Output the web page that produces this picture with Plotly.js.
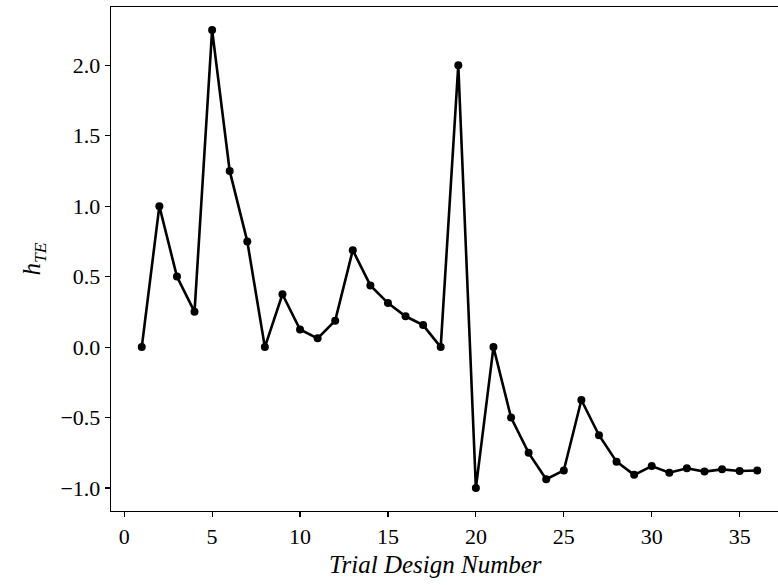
<!DOCTYPE html>
<html>
<head>
<meta charset="utf-8">
<script src="https://cdn.plot.ly/plotly-3.0.1.min.js"></script>
<style>
html,body{margin:0;padding:0;overflow:hidden;background:#fff;width:778px;height:585px;}
#chart{width:790px;height:585px;}
</style>
</head>
<body>
<div id="chart"></div>
<script>
const trialNumbers = [1,2,3,4,5,6,7,8,9,10,11,12,13,14,15,16,17,18,19,20,21,22,23,24,25,26,27,28,29,30,31,32,33,34,35,36];
const hTE = [0, 1.0, 0.5, 0.25, 2.25, 1.25, 0.75, 0, 0.375, 0.125, 0.0625, 0.1875, 0.6875, 0.4375, 0.3125, 0.21875, 0.15625, 0,
             2.0, -1.0, 0, -0.5, -0.75, -0.9375, -0.875, -0.375, -0.625, -0.8125, -0.90625, -0.84375, -0.890625, -0.859375,
             -0.8828, -0.8672, -0.8789, -0.875];
const xTicks = [0,5,10,15,20,25,30,35];
const yTicks = [-1.0,-0.5,0.0,0.5,1.0,1.5,2.0];
const xTitle = 'Trial Design Number';

const fam = '"Liberation Serif", "DejaVu Serif", serif';
const tickFont = {family: fam, size: 22, color: '#000'};
const titleFont = {family: fam, size: 25, color: '#000'};

Plotly.newPlot('chart', [{
  x: trialNumbers, y: hTE, type: 'scatter', mode: 'lines+markers',
  line: {color: '#000', width: 2.6},
  marker: {color: '#000', size: 8}
}], {
  width: 790, height: 585,
  margin: {l: 111, r: 2, t: 7, b: 74},
  paper_bgcolor: '#fff', plot_bgcolor: '#fff',
  showlegend: false,
  font: tickFont,
  xaxis: {
    range: [-0.75, 37.75], tickvals: xTicks, ticktext: xTicks.map(String),
    ticks: 'outside', ticklen: 5, tickwidth: 1.2, tickcolor: '#000',
    showline: true, mirror: true, linecolor: '#000', linewidth: 1.3,
    showgrid: false, zeroline: false,
    tickfont: tickFont
  },
  yaxis: {
    range: [-1.1625, 2.4125], tickvals: yTicks, tickformat: '.1f',
    ticks: 'outside', ticklen: 5, tickwidth: 1.2, tickcolor: '#000',
    showline: true, mirror: true, linecolor: '#000', linewidth: 1.3,
    showgrid: false, zeroline: false,
    tickfont: tickFont,
    title: {text: '<i>h</i><sub><i>TE</i></sub>', font: titleFont, standoff: 12}
  },
  annotations: [{
    text: '<i>' + xTitle + '</i>', xref: 'paper', yref: 'paper',
    x: 0.479, y: -0.107, xanchor: 'center', yanchor: 'middle',
    showarrow: false, font: titleFont
  }]
}, {displayModeBar: false, staticPlot: true});
</script>
</body>
</html>
